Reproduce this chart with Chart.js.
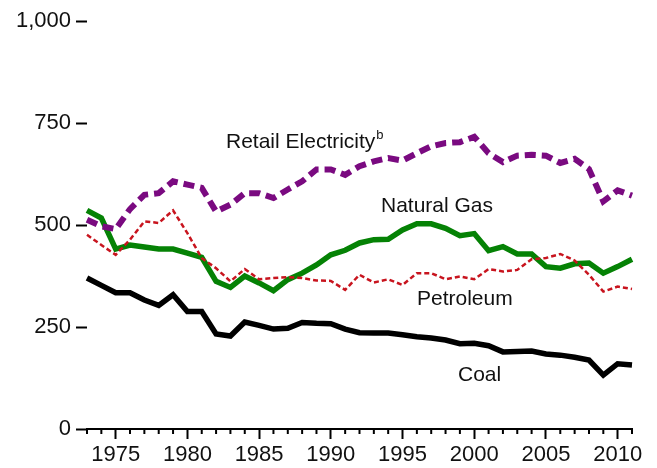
<!DOCTYPE html>
<html>
<head>
<meta charset="utf-8">
<script src="https://cdn.jsdelivr.net/npm/chart.js@4.4.0/dist/chart.umd.min.js"></script>
<style>
  html, body { margin: 0; padding: 0; background: #fff; }
  #wrap { width: 657px; height: 468px; }
</style>
</head>
<body>
<div id="wrap"><canvas id="chart"></canvas></div>
<script>
const years = [1973, 1974, 1975, 1976, 1977, 1978, 1979, 1980, 1981, 1982,
  1983, 1984, 1985, 1986, 1987, 1988, 1989, 1990, 1991, 1992,
  1993, 1994, 1995, 1996, 1997, 1998, 1999, 2000, 2001, 2002,
  2003, 2004, 2005, 2006, 2007, 2008, 2009, 2010, 2011];

const retailElectricity = [513, 497, 490, 539, 574, 578, 607, 599, 591, 533,
  550, 578, 578, 566, 587, 607, 636, 636, 623, 644,
  656, 664, 658, 676, 693, 701, 703, 716, 676, 654,
  670, 672, 670, 652, 662, 637, 558, 585, 572];

const naturalGas = [536, 517, 441, 451, 446, 441, 441, 431, 421, 362,
  347, 375, 358, 339, 366, 382, 402, 427, 438, 456,
  464, 465, 488, 503, 503, 492, 474, 479, 437, 447,
  429, 429, 398, 394, 405, 407, 382, 398, 416];

const petroleum = [476, 451, 427, 464, 509, 505, 536, 480, 419, 394,
  362, 392, 367, 370, 372, 370, 364, 363, 341, 378,
  359, 367, 353, 382, 382, 367, 374, 367, 392, 386,
  390, 416, 419, 429, 413, 378, 337, 349, 343];

const coal = [370, 352, 334, 334, 316, 303, 329, 288, 288, 233,
  228, 262, 254, 245, 247, 261, 259, 258, 245, 236,
  235, 235, 231, 226, 223, 218, 209, 210, 204, 189,
  190, 191, 184, 181, 176, 169, 132, 160, 157];

const yTicks = [0, 250, 500, 750, 1000];

const FONT = '"Liberation Sans", Arial, sans-serif';

// minor year ticks (major ones come from the axis itself)
const minorTicks = {
  id: 'minorTicks',
  afterDraw(chart) {
    const x = chart.scales.x;
    const c = chart.ctx;
    const bottom = chart.chartArea.bottom;
    c.save();
    c.strokeStyle = '#000';
    c.lineWidth = 2;
    years.forEach((yr, i) => {
      if (yr % 5 === 0) return;
      const px = x.getPixelForValue(i);
      c.beginPath();
      c.moveTo(px, bottom);
      c.lineTo(px, bottom + 5);
      c.stroke();
    });
    c.restore();
  }
};

// series names written next to the lines
const seriesNames = {
  id: 'seriesNames',
  afterDatasetsDraw(chart) {
    const c = chart.ctx;
    c.save();
    c.fillStyle = '#111';
    c.textAlign = 'left';
    c.textBaseline = 'alphabetic';
    c.font = '21px ' + FONT;
    c.fillText('Retail Electricity', 226, 148);
    const w = c.measureText('Retail Electricity').width;
    c.fillText('Natural Gas', 381, 212);
    c.fillText('Petroleum', 417, 305);
    c.fillText('Coal', 458, 381);
    c.font = '13px ' + FONT;
    c.fillText('b', 226 + w + 1, 139);
    c.restore();
  }
};

new Chart(document.getElementById('chart'), {
  type: 'line',
  data: {
    labels: years,
    datasets: [{
        label: 'Petroleum',
        data: petroleum,
        borderColor: '#C8141E',
        borderWidth: 2.5,
        borderDash: [5, 3]
      },
      {
        label: 'Retail Electricity',
        data: retailElectricity,
        borderColor: '#7A0A80',
        borderWidth: 6,
        borderDash: [11, 6]
      },
      {
        label: 'Natural Gas',
        data: naturalGas,
        borderColor: '#058205',
        borderWidth: 5.5
      },
      {
        label: 'Coal',
        data: coal,
        borderColor: '#000',
        borderWidth: 5.5
      }
    ]
  },
  options: {
    responsive: true,
    maintainAspectRatio: false,
    animation: false,
    layout: {
      padding: { top: 21, right: 25, left: 0, bottom: 0 }
    },
    elements: {
      point: { radius: 0 },
      line: { tension: 0, borderJoinStyle: 'miter', borderCapStyle: 'butt' }
    },
    plugins: {
      legend: { display: false },
      tooltip: { enabled: false }
    },
    scales: {
      x: {
        type: 'category',
        offset: false,
        afterFit: s => { s.height = 39; },
        border: { display: true, color: '#000', width: 2 },
        grid: {
          drawOnChartArea: false,
          tickLength: 10,
          tickWidth: 2,
          tickColor: ctx => (years[ctx.index] % 5 === 0 ? '#000' : 'rgba(0,0,0,0)')
        },
        ticks: {
          autoSkip: false,
          maxRotation: 0,
          padding: 3,
          color: '#111',
          font: { family: FONT, size: 22 },
          callback: (val, i) => (years[i] % 5 === 0 ? String(years[i]) : '')
        }
      },
      y: {
        min: 0,
        max: 1000,
        afterFit: s => { s.width = 87; },
        afterBuildTicks: s => { s.ticks = yTicks.map(v => ({ value: v })); },
        border: { display: false },
        grid: {
          drawOnChartArea: false,
          tickLength: 11,
          tickWidth: 2,
          tickColor: '#000'
        },
        ticks: {
          padding: 5,
          color: '#111',
          font: { family: FONT, size: 22 },
          callback: v => v.toLocaleString('en-US')
        }
      }
    }
  },
  plugins: [minorTicks, seriesNames]
});
</script>
</body>
</html>
